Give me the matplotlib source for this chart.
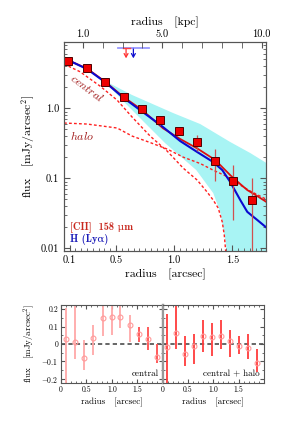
import matplotlib
matplotlib.use('Agg')
from matplotlib import pyplot as plt
from matplotlib.ticker import FixedLocator, MultipleLocator, LogLocator, NullFormatter

# ---- data ----
# main panel: surface brightness profile
r_pts = [0.09, 0.25, 0.405, 0.565, 0.72, 0.88, 1.04, 1.195, 1.355, 1.51, 1.67]
f_pts = [4.79, 3.77, 2.37, 1.46, 0.97, 0.68, 0.48, 0.333, 0.178, 0.0915, 0.049]
f_err = [0.08, 0.08, 0.08, 0.08, 0.08, 0.094, 0.07, 0.083, 0.087, 0.066, 0.054]

# best models
blue_r = [0.052, 0.103, 0.25, 0.405, 0.56, 0.724, 0.888, 1.052, 1.198, 1.336, 1.414, 1.483, 1.569, 1.629, 1.716, 1.79]
blue_f = [5.06, 4.74, 3.64, 2.37, 1.43, 0.90, 0.568, 0.341, 0.238, 0.171, 0.1315, 0.0885, 0.049, 0.0333, 0.0254, 0.0201]
red_r = [0.052, 0.103, 0.25, 0.405, 0.56, 0.724, 0.905, 1.052, 1.198, 1.353, 1.483, 1.569, 1.629, 1.716, 1.79]
red_f = [4.98, 4.74, 3.70, 2.41, 1.47, 0.946, 0.518, 0.365, 0.268, 0.183, 0.111, 0.083, 0.0682, 0.0558, 0.0465]
central_r = [0.052, 0.19, 0.362, 0.509, 0.638, 0.793, 0.94, 1.078, 1.198, 1.284, 1.336, 1.379, 1.414, 1.431, 1.444]
central_f = [4.29, 3.33, 2.08, 1.31, 0.751, 0.402, 0.245, 0.140, 0.0946, 0.0637, 0.049, 0.0377, 0.0238, 0.0155, 0.00885]
halo_r = [0.052, 0.25, 0.509, 0.638, 0.793, 0.94, 1.078, 1.224, 1.336, 1.457, 1.569, 1.655, 1.79]
halo_f = [0.617, 0.597, 0.524, 0.402, 0.325, 0.262, 0.201, 0.163, 0.131, 0.106, 0.0802, 0.0659, 0.0506]

# Lya band
band_hi_r = [0.388, 0.638, 0.991, 1.224, 1.483, 1.655, 1.793]
band_hi_f = [2.54, 1.55, 0.857, 0.597, 0.330, 0.230, 0.166]
band_lo_r = [0.388, 0.578, 0.75, 0.922, 1.19, 1.336, 1.397, 1.44, 1.457, 1.80]
band_lo_f = [2.54, 1.19, 0.615, 0.319, 0.1315, 0.0617, 0.033, 0.0132, 0.0080, 0.0080]

# upper limits at the top
lim_r_red = 0.586
lim_r_blue = 0.649
lim_bar_red = [0.558, 0.621]
lim_bar_blue = [0.52, 0.787]
lim_top = 7.2
lim_tip = 5.18

# residual panels
res_r_c = [0.1, 0.28, 0.46, 0.64, 0.82, 1.0, 1.17, 1.35, 1.53, 1.71, 1.89]
res_c = [0.027, 0.01, -0.082, 0.036, 0.147, 0.157, 0.155, 0.109, 0.056, 0.027, -0.075]
res_c_hi = [0.205, 0.25, 0.02, 0.11, 0.25, 0.25, 0.25, 0.168, 0.1, 0.1, -0.003]
res_c_lo = [-0.25, -0.087, -0.151, -0.065, 0.045, 0.053, 0.09, 0.012, 0.01, -0.037, -0.11]
res_r_ch = [0.085, 0.27, 0.44, 0.62, 0.8, 0.98, 1.15, 1.33, 1.51, 1.68, 1.86]
res_ch = [-0.015, 0.065, -0.057, -0.01, 0.044, 0.038, 0.048, 0.019, -0.011, -0.025, -0.11]
res_ch_hi = [0.175, 0.25, 0.044, 0.059, 0.135, 0.122, 0.135, 0.078, 0.045, 0.055, -0.032]
res_ch_lo = [-0.25, -0.032, -0.128, -0.115, -0.048, -0.067, -0.03, -0.078, -0.06, -0.085, -0.162]
res_c_colors = ['#ffa8a8'] * 8 + ['#ff4d4d'] * 3

plt.rcParams['font.family'] = ['cmr10', 'DejaVu Serif']
plt.rcParams['mathtext.fontset'] = 'cm'
plt.rcParams['axes.formatter.use_mathtext'] = True
plt.rcParams['axes.edgecolor'] = '#555555'
plt.rcParams['axes.linewidth'] = 0.8

fig = plt.figure(figsize=(2.99, 4.23), dpi=100)

# ---------------- main panel ----------------
ax = fig.add_axes([64 / 299, 1 - 251 / 423, 202 / 299, 209 / 423])
ax.set_yscale('log')

ax.fill(band_hi_r + band_lo_r[::-1], band_hi_f + band_lo_f[::-1],
        color='#a8f4f4', lw=0, zorder=1)
ax.plot(central_r, central_f, color='#ff2020', lw=1.0, ls=(0, (2, 1.6)), zorder=2)
ax.plot(halo_r, halo_f, color='#ff2020', lw=1.0, ls=(0, (2, 1.6)), zorder=2)
ax.plot(red_r, red_f, color='#dd1010', lw=1.3, zorder=3)
ax.plot(blue_r, blue_f, color='#0a0ad0', lw=1.5, zorder=4)

ax.errorbar(r_pts, f_pts, yerr=f_err, fmt='none', ecolor='#d05050', elinewidth=0.9, zorder=5)
ax.plot(r_pts, f_pts, 's', ms=6, mfc='#ee0000', mec='#500000', mew=0.7, zorder=6)

# upper limits
ax.plot(lim_bar_blue, [lim_top, lim_top], color='#7f7fff', lw=1.3, alpha=0.8, zorder=5)
ax.plot(lim_bar_red, [lim_top, lim_top], color='#ff4040', lw=1.0, zorder=5)
arrow_style = '->,head_length=0.25,head_width=0.14'
ax.annotate('', xy=(lim_r_red, lim_tip), xytext=(lim_r_red, lim_top),
            arrowprops=dict(arrowstyle=arrow_style, color='#ff3030', lw=0.9,
                            shrinkA=0, shrinkB=0))
ax.annotate('', xy=(lim_r_blue, lim_tip), xytext=(lim_r_blue, lim_top),
            arrowprops=dict(arrowstyle=arrow_style, color='#1010d0', lw=0.9,
                            shrinkA=0, shrinkB=0))

ax.set_xlim(0.052, 1.79)
ax.set_ylim(0.0092, 8.85)

ax.xaxis.set_major_locator(FixedLocator([0.1, 0.5, 1.0, 1.5]))
ax.set_xticklabels(['0.1', '0.5', '1.0', '1.5'])
ax.xaxis.set_minor_locator(MultipleLocator(0.05))
ax.yaxis.set_major_locator(FixedLocator([0.01, 0.1, 1.0]))
ax.set_yticklabels(['0.01', '0.1', '1.0'])
ax.yaxis.set_minor_locator(LogLocator(base=10, subs=range(2, 10)))
ax.yaxis.set_minor_formatter(NullFormatter())
ax.tick_params(which='both', direction='in', right=True, labelsize=7.5, color='#555555')
ax.tick_params(which='major', length=4)
ax.tick_params(which='minor', length=2)
ax.tick_params(axis='x', which='both', top=False, pad=3)

ax.set_xlabel('radius   [arcsec]', fontsize=8.5, labelpad=3)
ax.set_ylabel(r'flux   [mJy/arcsec$^2$]', fontsize=8.5, labelpad=3)

ax.text(0.25, 1.95, r'$\mathit{central}$', color='#a01818', fontsize=8.5,
        rotation=-37, ha='center', va='center')
ax.text(0.207, 0.415, r'$\mathit{halo}$', color='#a01818', fontsize=8.5,
        ha='center', va='center')
ax.text(0.03, 0.115, '[CII]  158 μm', transform=ax.transAxes, color='#c8281e',
        fontsize=7.5, family=['cmb10', 'DejaVu Serif'], va='center')
ax.text(0.03, 0.057, 'H (Lyα)', transform=ax.transAxes, color='#1c1cb8',
        fontsize=7.5, family=['cmb10', 'DejaVu Serif'], va='center')

# top axis in kpc
axt = ax.twiny()
axt.set_xlim(0.05, 10.22)
axt.xaxis.set_major_locator(FixedLocator([1.0, 5.0, 10.0]))
axt.set_xticklabels(['1.0', '5.0', '10.0'])
axt.xaxis.set_minor_locator(MultipleLocator(1.0))
axt.tick_params(which='both', direction='in', labelsize=7.5, color='#555555', pad=2)
axt.tick_params(which='major', length=4)
axt.tick_params(which='minor', length=4)
axt.set_xlabel('radius   [kpc]', fontsize=8.5, labelpad=3)

# ---------------- residual panels ----------------
pos_y = 1 - 382.5 / 423
pos_h = 77.5 / 423
axl = fig.add_axes([61 / 299, pos_y, 101.5 / 299, pos_h])
axr = fig.add_axes([162.5 / 299, pos_y, 101.5 / 299, pos_h])

for r, y, lo, hi, c in zip(res_r_c, res_c, res_c_lo, res_c_hi, res_c_colors):
    axl.plot([r, r], [lo, hi], color=c, lw=1.3, solid_capstyle='butt', zorder=2)
axl.plot(res_r_c, res_c, 'o', ms=3.5, mfc='none', mec='#ff9a9a', mew=0.8, zorder=3)
for r, y, lo, hi in zip(res_r_ch, res_ch, res_ch_lo, res_ch_hi):
    axr.plot([r, r], [lo, hi], color='#ff3b3b', lw=1.3, solid_capstyle='butt', zorder=2)
axr.plot(res_r_ch, res_ch, 'o', ms=3.5, mfc='none', mec='#ff9a9a', mew=0.8, zorder=3)

for a in (axl, axr):
    a.axhline(0, color='#666666', lw=1.4, ls=(0, (2.2, 1.6)), zorder=1)
    a.set_xlim(0, 2.0)
    a.set_ylim(-0.222, 0.224)
    a.xaxis.set_major_locator(FixedLocator([0, 0.5, 1.0, 1.5]))
    a.set_xticklabels(['0', '0.5', '1.0', '1.5'])
    a.xaxis.set_minor_locator(MultipleLocator(0.1))
    a.yaxis.set_major_locator(FixedLocator([-0.2, -0.1, 0, 0.1, 0.2]))
    a.yaxis.set_minor_locator(MultipleLocator(0.05))
    a.tick_params(which='both', direction='in', top=True, right=True,
                  labelsize=5.5, color='#555555', pad=2)
    a.tick_params(which='major', length=3)
    a.tick_params(which='minor', length=1.5)
    a.set_xlabel('radius   [arcsec]', fontsize=6.5, labelpad=3)

axl.set_yticklabels(['$-$0.2', '$-$0.1', '0', '0.1', '0.2'])
axr.set_yticklabels([])
axl.spines['right'].set_color('#999999')
axl.spines['right'].set_linewidth(1.6)
axr.spines['left'].set_color('#999999')
axr.spines['left'].set_linewidth(1.6)
axl.set_ylabel(r'flux   [mJy/arcsec$^2$]', fontsize=6.5, labelpad=3)

axl.text(0.96, 0.06, 'central', transform=axl.transAxes, ha='right', va='bottom', fontsize=6.5)
axr.text(0.96, 0.06, 'central + halo', transform=axr.transAxes, ha='right', va='bottom', fontsize=6.5)

fig.savefig('out.png', dpi=100)
